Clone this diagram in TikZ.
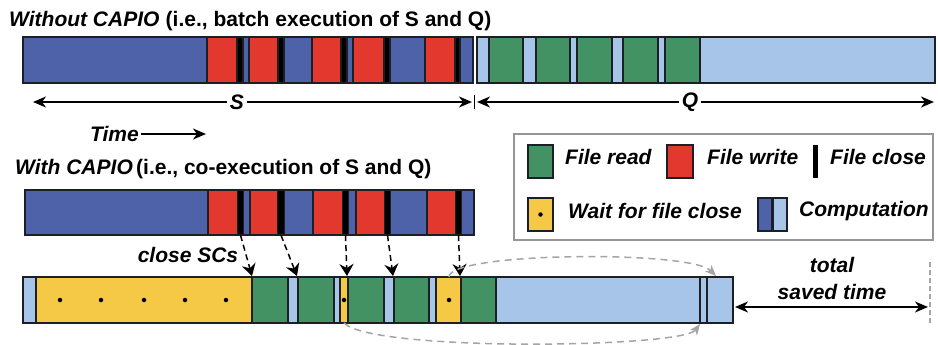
\documentclass[tikz,border=0pt]{standalone}
\usepackage{fontspec}
\setmainfont{Liberation Sans}
\usetikzlibrary{arrows.meta}
\definecolor{cdb}{RGB}{78,98,170}
\definecolor{clb}{RGB}{166,197,232}
\definecolor{cwr}{RGB}{226,56,46}
\definecolor{cgr}{RGB}{66,146,100}
\definecolor{cyw}{RGB}{245,200,70}
\definecolor{cedge}{RGB}{28,32,36}
\definecolor{cgray}{RGB}{165,165,165}
\definecolor{cframe}{RGB}{150,150,150}
\tikzset{
  seg/.style={draw=cedge, line width=1.1pt},
  barframe/.style={draw=cedge, line width=2.4pt},
  closebar/.style={fill=black, inner sep=0pt, minimum width=5pt, minimum height=45pt},
  lbl/.style={inner sep=0pt, font=\fontsize{21}{24}\selectfont\bfseries\itshape},
  txt/.style={inner sep=0pt, font=\fontsize{21}{24}\selectfont\bfseries},
  span/.style={line width=1.4pt, -{Stealth[length=13pt,width=11pt,inset=4pt]}},
  bothspan/.style={line width=1.4pt,
    {Stealth[length=13pt,width=11pt,inset=4pt]}-{Stealth[length=13pt,width=11pt,inset=4pt]}},
  closearrow/.style={line width=1.5pt, dash pattern=on 6pt off 4pt,
    -{Stealth[length=12pt,width=14pt,inset=4pt]}},
  movearrow/.style={draw=cgray, line width=1.5pt, dash pattern=on 7pt off 5pt,
    -{Stealth[length=11pt,width=9pt,inset=3pt]}},
  waitdot/.style={circle, fill=black, inner sep=0pt, minimum size=4.5pt},
  keybox/.style={draw=cedge, line width=1.2pt, inner sep=0pt}
}
\begin{document}
\begin{tikzpicture}[x=1pt,y=-1pt]
\useasboundingbox (0,0) rectangle (938,345);

% ---------- batch execution ----------
\node[lbl, anchor=base west] (t1) at (9,27) {Without CAPIO};
\node[txt, anchor=base west] (t1b) at (t1.base east) {\ (i.e., batch execution of S and Q)};

% producer S
\foreach \a/\b/\c in {23/207/cdb, 207/237/cwr, 237/243/black, 243/249/cdb,
  249/278/cwr, 278/284/black, 284/312/cdb, 312/341/cwr, 341/347/black,
  347/353/cdb, 353/384/cwr, 384/390/black, 390/425/cdb, 425/455/cwr,
  455/460/black, 460/473/cdb}
  \path[seg, fill=\c] (\a,37) rectangle (\b,83);
\path[barframe] (23,37) rectangle (473,83);

% consumer Q
\foreach \a/\b/\c in {477/489/clb, 489/523/cgr, 523/536/clb, 536/570/cgr,
  570/577/clb, 577/612/cgr, 612/623/clb, 623/658/cgr, 658/665/clb,
  665/700/cgr, 700/935/clb}
  \path[seg, fill=\c] (\a,37) rectangle (\b,83);
\path[barframe] (477,37) rectangle (935,83);

% spans of S and Q
\node[lbl] (S) at (237,102) {S};
\node[lbl] (Q) at (690,102) {Q};
\coordinate (sL) at (33,102);
\coordinate (sR) at (472,102);
\coordinate (qL) at (477,102);
\coordinate (qR) at (934,102);
\coordinate (tickT) at (474.5,95);
\coordinate (tickB) at (474.5,109);
\draw[span] ([xshift=-3pt]S.west) -- (sL);
\draw[span] ([xshift=3pt]S.east) -- (sR);
\draw[span] ([xshift=-3pt]Q.west) -- (qL);
\draw[span] ([xshift=3pt]Q.east) -- (qR);
\draw[line width=1.4pt] (tickT) -- (tickB);

% time direction
\node[lbl, anchor=west] (time) at (90,134) {Time};
\coordinate (timeEnd) at (206,134);
\draw[span] ([xshift=2pt]time.east) -- (timeEnd);

% ---------- co-execution ----------
\node[lbl, anchor=base west] (t2) at (15,175) {With CAPIO};
\node[txt, anchor=base west] (t2b) at ([xshift=3pt]t2.base east) {(i.e., co-execution of S and Q)};

% producer S
\foreach \a/\b/\c in {25/208/cdb, 208/238/cwr, 243/250/cdb, 250/278/cwr,
  284/313/cdb, 313/343/cwr, 348/356/cdb, 356/385/cwr, 390/427/cdb,
  427/456/cwr, 461/474/cdb}
  \path[seg, fill=\c] (\a,190) rectangle (\b,235);
\node[closebar] (k1) at (240.5,212.5) {};
\node[closebar, minimum width=6pt] (k2) at (281,212.5) {};
\node[closebar] (k3) at (345.5,212.5) {};
\node[closebar] (k4) at (387.5,212.5) {};
\node[closebar] (k5) at (458.5,212.5) {};
\path[barframe] (25,190) rectangle (474,235);

% consumer Q
\foreach \a/\b/\c in {23/36/clb, 36/252/cyw, 252/288/cgr, 288/298/clb,
  298/334/cgr, 334/340/clb, 340/348/cyw, 348/384/cgr, 384/394/clb,
  394/429/cgr, 429/436/clb, 436/461/cyw, 461/496/cgr, 496/700/clb,
  700/707/clb, 707/733/clb}
  \path[seg, fill=\c] (\a,277) rectangle (\b,323);
\path[barframe] (23,277) rectangle (733,323);
\foreach \x in {60,101,144,185,226,344,449}
  \node[waitdot] at (\x,300) {};

% close system calls unblocking Q
\coordinate (r1) at (252,276);
\coordinate (r2) at (297,276);
\coordinate (r3) at (347,276);
\coordinate (r4) at (393,276);
\coordinate (r5) at (460,276);
\draw[closearrow] (k1.south) -- (r1);
\draw[closearrow] (k2.south) -- (r2);
\draw[closearrow] (k3.south) -- (r3);
\draw[closearrow] (k4.south) -- (r4);
\draw[closearrow] (k5.south) -- (r5);
\node[lbl] (sc) at (188,255) {close SCs};

% shifted waits
\coordinate (wA) at (449,277);
\coordinate (wAend) at (716,276);
\coordinate (wB) at (344,323);
\coordinate (wBend) at (700,324);
\draw[movearrow] (wA) .. controls (449,252) and (690,250) .. (wAend);
\draw[movearrow] (wB) .. controls (372,352) and (682,348) .. (wBend);

% total saved time
\node[lbl] (tot) at (832,265) {total};
\node[lbl] (sav) at (832,292) {saved time};
\coordinate (gL) at (735,307);
\coordinate (gR) at (928,307);
\draw[bothspan] (gL) -- (gR);
\draw[cgray, line width=1.2pt, dash pattern=on 5pt off 3pt] (930,262) -- (930,325);

% ---------- legend ----------
\path[draw=cframe, line width=2.6pt] (514,134) rectangle (933,240);
\node[keybox, fill=cgr, minimum width=25pt, minimum height=33pt] (kr) at (540.5,161.5) {};
\node[lbl, anchor=west] (kra) at (565,157) {File read};
\node[keybox, fill=cwr, minimum width=26pt, minimum height=33pt] (kw) at (680,161.5) {};
\node[lbl, anchor=west] (kwa) at (707,157) {File write};
\node[closebar, minimum height=33pt] (kc) at (815.5,161.5) {};
\node[lbl, anchor=west] (kca) at (830,157) {File close};
\node[keybox, fill=cyw, minimum width=25pt, minimum height=33pt] (ky) at (540.5,214.5) {};
\node[waitdot] at (ky.center) {};
\node[lbl, anchor=west] (kya) at (568,211) {Wait for file close};
\node[keybox, fill=cdb, minimum width=14pt, minimum height=33pt] (kd) at (765,214.5) {};
\node[keybox, fill=clb, minimum width=14pt, minimum height=33pt] (kl) at (780,214.5) {};
\node[lbl, anchor=west] (kla) at (799,211) {Computation};
\end{tikzpicture}
\end{document}
